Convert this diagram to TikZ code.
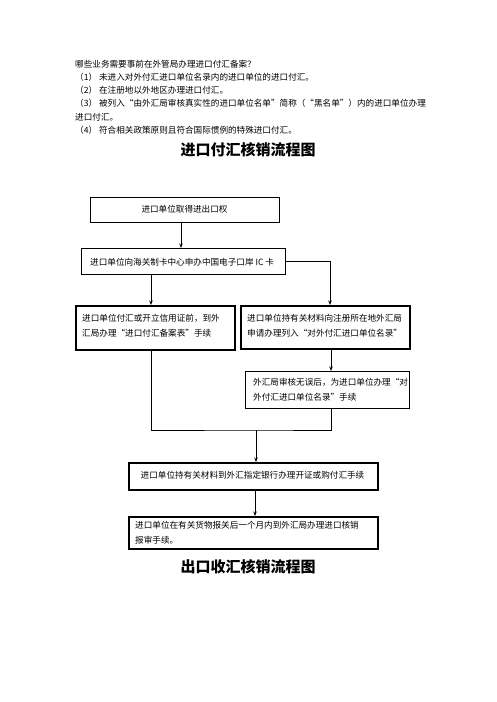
\documentclass[tikz,border=0pt]{standalone}
\usepackage{fontspec}
\setmainfont{Noto Sans CJK SC}
\usetikzlibrary{arrows.meta}
\begin{document}
\begin{tikzpicture}[x=1pt,y=-1pt,
  box/.style={draw, line width=0.8pt, inner sep=0pt, anchor=north west},
  thickbox/.style={box, line width=1.8pt},
  midbox/.style={box, line width=1.2pt},
  txt/.style={font=\fontsize{8.6}{15}\selectfont, inner sep=0pt, align=left, anchor=west},
  arr/.style={-{Stealth[length=4.5pt,width=3.5pt]}, line width=0.8pt},
  link/.style={line width=0.8pt},
  ttl/.style={font=\fontsize{15}{15}\selectfont\bfseries, inner sep=0pt}
]
\useasboundingbox[fill=white] (0,0) rectangle (496,702);

% introduction text
\node[txt, font=\fontsize{8.6}{13.2}\selectfont] (intro) at (75,97) {哪些业务需要事前在外管局办理进口付汇备案？\\
（1） 未进入对外付汇进口单位名录内的进口单位的进口付汇。\\
（2） 在注册地以外地区办理进口付汇。\\
（3） 被列入“由外汇局审核真实性的进口单位名单”简称（“黑名单”）内的进口单位办理\\
进口付汇。\\
（4） 符合相关政策原则且符合国际惯例的特殊进口付汇。};

\node[ttl] (title1) at (248,150) {进口付汇核销流程图};

% boxes
\node[midbox, minimum width=189pt, minimum height=25pt] (b1) at (90,197) {};
\node[box, minimum width=204pt, minimum height=26pt] (b2) at (81,248) {};
\node[thickbox, minimum width=159pt, minimum height=44pt] (b3) at (75,305) {};
\node[thickbox, minimum width=169pt, minimum height=43pt] (b4) at (240,305) {};
\node[box, minimum width=164pt, minimum height=37pt] (b5) at (245,371) {};
\node[thickbox, minimum width=249pt, minimum height=27pt] (b6) at (128,462) {};
\node[thickbox, minimum width=249pt, minimum height=32pt] (b7) at (128,516) {};

% box texts
\node[txt, anchor=center] (t1) at (184.5,209) {进口单位取得进出口权};
\node[txt] (t2) at (90,262) {进口单位向海关制卡中心申办中国电子口岸 IC 卡};
\node[txt] (t3) at (82,326) {进口单位付汇或开立信用证前，到外\\汇局办理“进口付汇备案表”手续};
\node[txt] (t4) at (247,326) {进口单位持有关材料向注册所在地外汇局\\申请办理列入“对外付汇进口单位名录”};
\node[txt] (t5) at (253,390) {外汇局审核无误后，为进口单位办理“对\\外付汇进口单位名录”手续};
\node[txt, anchor=center] (t6) at (252.5,475) {进口单位持有关材料到外汇指定银行办理开证或购付汇手续};
\node[txt] (t7) at (135,532.5) {进口单位在有关货物报关后一个月内到外汇局办理进口核销\\报审手续。};

\node[ttl] (title2) at (248,567) {出口收汇核销流程图};

% connectors
\coordinate (j0) at (181,0);
\coordinate (j1) at (151,0);
\coordinate (j2) at (330,0);
\coordinate (j3) at (331,0);
\coordinate (j4) at (255,0);
\coordinate (m) at (256,430);

\draw[arr] (b1.south -| j0) -- (b2.north -| j0);
\draw[arr] (b2.south -| j1) -- (b3.north -| j1);
\draw[arr] (b2.east) -| (b4.north -| j2);
\draw[arr] (b4.south -| j3) -- (b5.north -| j3);
\draw[link] (b3.south -| j1) |- (m) -| (b5.south -| j3);
\draw[arr] (m) -- (b6.north -| m);
\draw[arr] (b6.south -| j4) -- (b7.north -| j4);
\end{tikzpicture}
\end{document}
